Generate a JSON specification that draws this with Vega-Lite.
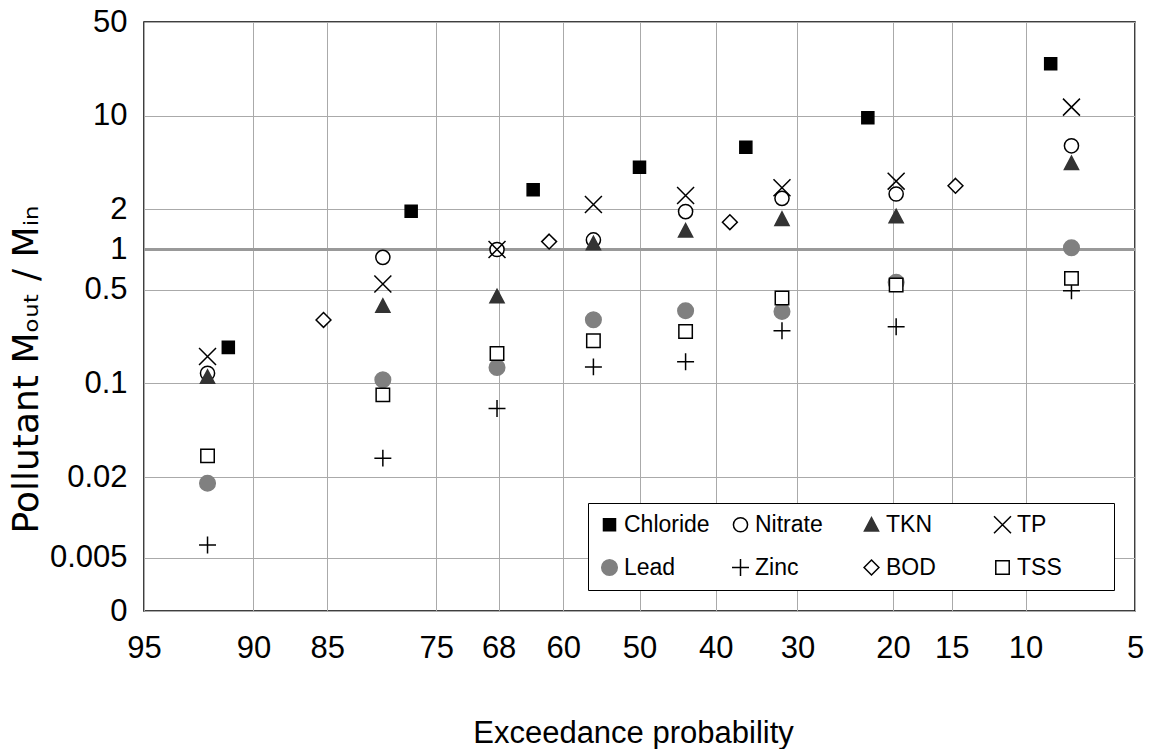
{
  "$schema": "https://vega.github.io/schema/vega-lite/v6.json",
  "width": 991,
  "height": 589,
  "autosize": {"type": "none"},
  "padding": {"left": 144, "top": 22, "right": 21, "bottom": 138},
  "background": "white",
  "config": {
    "view": {"stroke": "#000", "strokeWidth": 1.5},
    "font": "Liberation Sans",
    "axis": {
      "grid": true, "gridColor": "#aaaaaa", "gridWidth": 1, "domain": false, "ticks": false,
      "labelFont": "Liberation Sans", "labelFontSize": 31, "labelColor": "#000",
      "labelFlush": false, "labelOverlap": false, "labelBound": false,
      "titleFont": "Liberation Sans", "titleFontSize": 31, "titleFontWeight": "normal", "titleColor": "#000"
    }
  },
  "data": {
    "values": [
      {"pollutant": "Chloride", "z": -1.365, "ratio": 0.186},
      {"pollutant": "Chloride", "z": -0.758, "ratio": 1.93},
      {"pollutant": "Chloride", "z": -0.353, "ratio": 2.79},
      {"pollutant": "Chloride", "z": 0, "ratio": 4.12},
      {"pollutant": "Chloride", "z": 0.353, "ratio": 5.81},
      {"pollutant": "Chloride", "z": 0.758, "ratio": 9.64},
      {"pollutant": "Chloride", "z": 1.365, "ratio": 24.4},
      {"pollutant": "Nitrate", "z": -1.434, "ratio": 0.119},
      {"pollutant": "Nitrate", "z": -0.852, "ratio": 0.874},
      {"pollutant": "Nitrate", "z": -0.473, "ratio": 1.0},
      {"pollutant": "Nitrate", "z": -0.153, "ratio": 1.18},
      {"pollutant": "Nitrate", "z": 0.153, "ratio": 1.92},
      {"pollutant": "Nitrate", "z": 0.473, "ratio": 2.41},
      {"pollutant": "Nitrate", "z": 0.852, "ratio": 2.6},
      {"pollutant": "Nitrate", "z": 1.434, "ratio": 5.95},
      {"pollutant": "TKN", "z": -1.434, "ratio": 0.112},
      {"pollutant": "TKN", "z": -0.852, "ratio": 0.379},
      {"pollutant": "TKN", "z": -0.473, "ratio": 0.447},
      {"pollutant": "TKN", "z": -0.153, "ratio": 1.11},
      {"pollutant": "TKN", "z": 0.153, "ratio": 1.385},
      {"pollutant": "TKN", "z": 0.473, "ratio": 1.69},
      {"pollutant": "TKN", "z": 0.852, "ratio": 1.77},
      {"pollutant": "TKN", "z": 1.434, "ratio": 4.41},
      {"pollutant": "TP", "z": -1.434, "ratio": 0.159},
      {"pollutant": "TP", "z": -0.852, "ratio": 0.553},
      {"pollutant": "TP", "z": -0.473, "ratio": 1.0},
      {"pollutant": "TP", "z": -0.153, "ratio": 2.17},
      {"pollutant": "TP", "z": 0.153, "ratio": 2.53},
      {"pollutant": "TP", "z": 0.473, "ratio": 2.89},
      {"pollutant": "TP", "z": 0.852, "ratio": 3.24},
      {"pollutant": "TP", "z": 1.434, "ratio": 11.57},
      {"pollutant": "Lead", "z": -1.434, "ratio": 0.018},
      {"pollutant": "Lead", "z": -0.852, "ratio": 0.1065},
      {"pollutant": "Lead", "z": -0.473, "ratio": 0.1316},
      {"pollutant": "Lead", "z": -0.153, "ratio": 0.299},
      {"pollutant": "Lead", "z": 0.153, "ratio": 0.349},
      {"pollutant": "Lead", "z": 0.473, "ratio": 0.345},
      {"pollutant": "Lead", "z": 0.852, "ratio": 0.569},
      {"pollutant": "Lead", "z": 1.434, "ratio": 1.03},
      {"pollutant": "Zinc", "z": -1.434, "ratio": 0.00622},
      {"pollutant": "Zinc", "z": -0.852, "ratio": 0.0277},
      {"pollutant": "Zinc", "z": -0.473, "ratio": 0.065},
      {"pollutant": "Zinc", "z": -0.153, "ratio": 0.133},
      {"pollutant": "Zinc", "z": 0.153, "ratio": 0.145},
      {"pollutant": "Zinc", "z": 0.473, "ratio": 0.2475},
      {"pollutant": "Zinc", "z": 0.852, "ratio": 0.265},
      {"pollutant": "Zinc", "z": 1.434, "ratio": 0.493},
      {"pollutant": "BOD", "z": -1.049, "ratio": 0.298},
      {"pollutant": "BOD", "z": -0.3, "ratio": 1.146},
      {"pollutant": "BOD", "z": 0.3, "ratio": 1.6},
      {"pollutant": "BOD", "z": 1.049, "ratio": 2.99},
      {"pollutant": "TSS", "z": -1.434, "ratio": 0.0288},
      {"pollutant": "TSS", "z": -0.852, "ratio": 0.0822},
      {"pollutant": "TSS", "z": -0.473, "ratio": 0.1675},
      {"pollutant": "TSS", "z": -0.153, "ratio": 0.2085},
      {"pollutant": "TSS", "z": 0.153, "ratio": 0.2446},
      {"pollutant": "TSS", "z": 0.473, "ratio": 0.435},
      {"pollutant": "TSS", "z": 0.852, "ratio": 0.544},
      {"pollutant": "TSS", "z": 1.434, "ratio": 0.609}
    ]
  },
  "layer": [
    {
      "mark": {"type": "rule", "color": "#999999", "strokeWidth": 3},
      "encoding": {"y": {"datum": 1, "type": "quantitative"}}
    },
    {
      "mark": {"type": "point", "size": 200, "strokeWidth": 1.5, "opacity": 1},
      "encoding": {
        "x": {
          "field": "z", "type": "quantitative",
          "scale": {"domain": [-1.6449, 1.6449], "nice": false, "zero": false},
          "axis": {
            "values": [-1.6449, -1.2816, -1.0364, -0.6745, -0.4677, -0.2533, 0, 0.2533, 0.5244, 0.8416, 1.0364, 1.2816, 1.6449],
            "labelExpr": "format(100 - 100 * cumulativeNormal(datum.value), '.0f')",
            "labelPadding": 22,
            "title": "Exceedance probability",
            "titleBaseline": "alphabetic", "titleY": 131, "titleX": 489
          }
        },
        "y": {
          "field": "ratio", "type": "quantitative",
          "scale": {"type": "log", "domain": [0.002, 50], "nice": false},
          "axis": {
            "values": [0.002, 0.005, 0.02, 0.1, 0.5, 1, 2, 10, 50],
            "labelExpr": "datum.value < 0.003 ? '0' : '' + datum.value",
            "labelPadding": 17,
            "title": "Pollutant Mₒᵤₜ / Mᵢₙ",
            "titleFont": "DejaVu Sans", "titleFontSize": 36,
            "titleBaseline": "alphabetic", "titleX": -107, "titleY": 347
          }
        },
        "shape": {
          "field": "pollutant", "type": "nominal",
          "scale": {
            "domain": ["Chloride", "Nitrate", "TKN", "TP", "Lead", "Zinc", "BOD", "TSS"],
            "range": [
              "M-0.85,-0.85H0.85V0.85H-0.85Z",
              "circle",
              "M0,-1L1,0.9L-1,0.9Z",
              "M-1.2,-1.2L1.2,1.2M-1.2,1.2L1.2,-1.2",
              "M1.1,0A1.1,1.1,0,1,1,-1.1,0A1.1,1.1,0,1,1,1.1,0Z",
              "M-1.2,0H1.2M0,-1.2V1.2",
              "M0,-1.05L1.05,0L0,1.05L-1.05,0Z",
              "M-0.95,-0.95H0.95V0.95H-0.95Z"
            ]
          },
          "legend": {
            "title": " ", "titleOrient": "right", "titlePadding": 42, "titleFontSize": 23,
            "orient": "bottom-right", "offset": 21, "columns": 4, "direction": "horizontal", "gridAlign": "all",
            "columnPadding": 19, "rowPadding": 19, "padding": 10,
            "strokeColor": "#000", "fillColor": "#fff",
            "labelFont": "Liberation Sans", "labelFontSize": 23, "labelColor": "#000", "labelOffset": 3,
            "symbolSize": 200, "symbolStrokeWidth": 1.5, "symbolOpacity": 1
          }
        },
        "fill": {
          "field": "pollutant", "type": "nominal",
          "scale": {
            "domain": ["Chloride", "Nitrate", "TKN", "TP", "Lead", "Zinc", "BOD", "TSS"],
            "range": ["#000000", "#ffffff", "#333333", "transparent", "#808080", "transparent", "#ffffff", "#ffffff"]
          }
        },
        "stroke": {
          "field": "pollutant", "type": "nominal",
          "scale": {
            "domain": ["Chloride", "Nitrate", "TKN", "TP", "Lead", "Zinc", "BOD", "TSS"],
            "range": ["#000000", "#000000", "#333333", "#000000", "#808080", "#000000", "#000000", "#000000"]
          }
        }
      }
    }
  ]
}
